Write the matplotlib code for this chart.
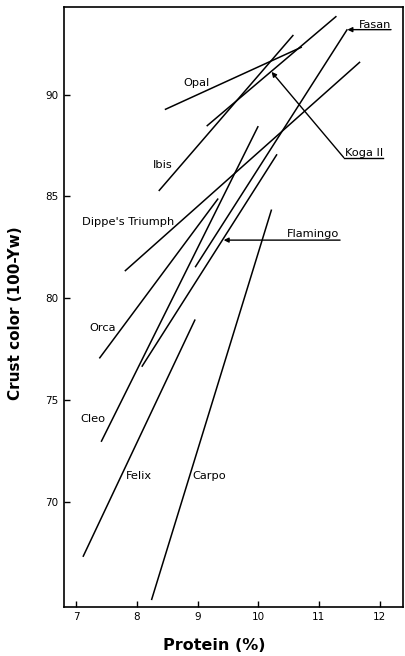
import matplotlib
matplotlib.use("Agg")
import matplotlib.pyplot as plt

# regression lines of crust colour vs protein, one per variety
varieties = ["Opal", "Ibis", "Koga II", "Fasan", "Dippe's Triumph",
             "Orca", "Cleo", "Flamingo", "Felix", "Carpo"]
x_start = [8.46, 8.36, 9.15, 8.96, 7.80, 7.38, 7.41, 8.08, 7.11, 8.24]
x_end = [10.72, 10.58, 11.29, 11.47, 11.68, 9.34, 10.00, 10.31, 8.96, 10.22]
y_start = [89.26, 85.27, 88.45, 81.53, 81.34, 77.06, 72.97, 76.65, 67.33, 65.21]
y_end = [92.33, 92.92, 93.84, 93.20, 91.60, 84.90, 88.45, 87.07, 78.97, 84.36]

# where the variety names sit
label_x = [8.98, 8.43, 11.74, 11.93, 7.85, 7.44, 7.27, 10.90, 8.03, 9.19]
label_y = [90.57, 86.53, 87.15, 93.40, 83.75, 78.53, 74.07, 83.14, 71.29, 71.29]

x_ticks = [7, 8, 9, 10, 11, 12]
y_ticks = [70, 75, 80, 85, 90]

fig = plt.figure(figsize=(4.06, 6.56), dpi=100)
ax = fig.add_axes([0.158, 0.075, 0.835, 0.914])

for xs, xe, ys, ye in zip(x_start, x_end, y_start, y_end):
    ax.plot([xs, xe], [ys, ye], color="black", lw=1.1, solid_capstyle="butt")

# names with leader arrows
arrowed = {"Fasan": [(12.19, 93.18), (11.47, 93.18)],
           "Koga II": [(12.05, 86.91), (11.41, 86.91), (10.22, 91.11)],
           "Flamingo": [(11.35, 82.86), (9.43, 82.86)]}

for name, lx, ly in zip(varieties, label_x, label_y):
    ax.text(lx, ly, name, fontsize=8.2, ha="center", va="center")
    if name in arrowed:
        pts = arrowed[name]
        xs = [p[0] for p in pts]
        ys = [p[1] for p in pts]
        ax.plot(xs[:-1], ys[:-1], color="black", lw=1.0)
        ax.annotate("", xy=pts[-1], xytext=pts[-2],
                    arrowprops=dict(arrowstyle="-|>", color="black", lw=1.0,
                                    mutation_scale=7, shrinkA=0, shrinkB=0))

ax.set_xlim(6.8, 12.39)
ax.set_ylim(64.88, 94.28)
ax.set_xticks(x_ticks)
ax.set_yticks(y_ticks)
ax.tick_params(direction="in", length=4, width=1, labelsize=7.5, pad=4)

for s in ax.spines.values():
    s.set_linewidth(1.2)

ax.set_xlabel("Protein (%)", fontsize=11.5, fontweight="bold")
ax.set_ylabel("Crust color (100-Yw)", fontsize=11, fontweight="bold")
ax.xaxis.set_label_coords(0.443, -0.052)
ax.yaxis.set_label_coords(-0.122, 0.49)

fig.savefig("out.png", dpi=100)
